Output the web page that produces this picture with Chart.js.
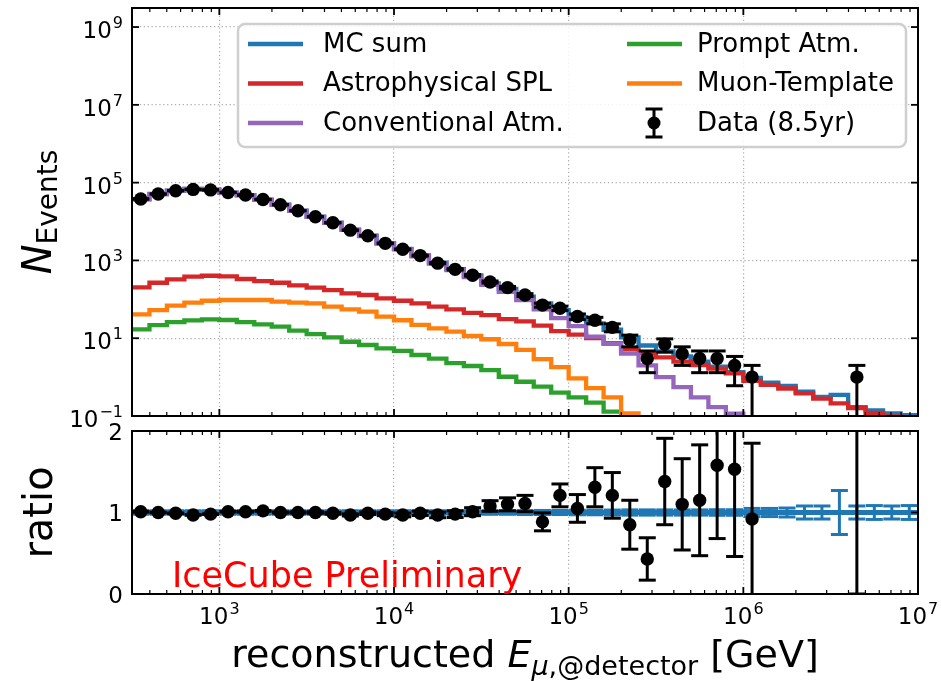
<!DOCTYPE html>
<html>
<head>
<meta charset="utf-8">
<script src="https://cdn.jsdelivr.net/npm/chart.js@4.4.0/dist/chart.umd.min.js"></script>
<style>
  html, body { margin: 0; padding: 0; background: #ffffff; }
  #wrap { position: relative; width: 941px; height: 681px; overflow: hidden; background: #ffffff; }
  #wrap canvas { position: absolute; left: 0; }
  #main { top: 0; }
  #ratio { top: 420px; }
</style>
</head>
<body>
<div id="wrap">
  <canvas id="main" width="941" height="430"></canvas>
  <canvas id="ratio" width="941" height="261"></canvas>
</div>
<script>
// Energy binning: log10(E / GeV) bin edges, 0.1 decade per bin
const binEdgesLog10 = [2.5, 2.6, 2.7, 2.8, 2.9, 3.0, 3.1, 3.2, 3.3, 3.4,
                       3.5, 3.6, 3.7, 3.8, 3.9, 4.0, 4.1, 4.2, 4.3, 4.4,
                       4.5, 4.6, 4.7, 4.8, 4.9, 5.0, 5.1, 5.2, 5.3, 5.4,
                       5.5, 5.6, 5.7, 5.8, 5.9, 6.0, 6.1, 6.2, 6.3, 6.4,
                       6.5, 6.6, 6.7, 6.8, 6.9, 7.0];

// Observed events per bin and their uncertainties
const dataCounts = [38000, 51000, 62000, 67000, 65000, 56000, 48000, 37000, 27000, 19000,
                    13300, 9300, 6000, 4300, 2750, 1930, 1330, 850, 590, 414,
                    279, 200, 129, 71, 59, 36, 29, 19, 9, 3,
                    7, 4, 3, 3, 2, 1, 0, 0, 0, 0,
                    0, 1, 0, 0, 0];
const dataErr = [195, 226, 249, 259, 255, 237, 219, 192, 164, 138,
                 115, 96, 77, 66, 52, 44, 36, 29, 24, 20,
                 17, 14, 11, 8.4, 7.7, 6, 5.4, 4.4, 3, 1.7,
                 2.6, 2, 1.7, 1.7, 1.4, 1, 0, 0, 0, 0,
                 0, 1, 0, 0, 0];

// Expected events per bin
const mcSum = [37600, 51000, 62600, 69000, 66300, 55400, 47500, 36300, 27000, 19000,
               13300, 9400, 6190, 4340, 2800, 1990, 1340, 875, 600, 410,
               258, 184, 117, 78, 53, 35, 24, 16.5, 10.5, 6.5,
               4.6, 3.4, 2.5, 1.85, 1.35, 0.95, 0.72, 0.59, 0.42, 0.31,
               0.35, 0.17, 0.14, 0.117, 0.105];
const astroSPL = [203, 267, 327, 381, 404, 390, 333, 295, 267, 229,
                  199, 173, 143, 129, 106, 92, 79, 65, 55, 45,
                  39, 31, 27, 21, 15.2, 12.4, 10, 7.5, 5.2, 4.1,
                  3.2, 2.5, 2.05, 1.65, 1.25, 0.8, 0.63, 0.51, 0.38, 0.28,
                  0.21, 0.16, 0.12, 0.098, 0.085];
const convAtm = [37300, 50700, 62200, 68600, 65900, 55000, 47100, 35900, 26700, 18750,
                 13100, 9250, 6070, 4240, 2720, 1920, 1280, 830, 560, 375,
                 235, 155, 95, 55, 33, 20.5, 11, 7.2, 4.0, 2.0,
                 1.0, 0.55, 0.3, 0.17, 0.115, 0.07, null, null, null, null,
                 null, null, null, null, null];
const promptAtm = [16.9, 21.8, 26, 28.8, 30.6, 29.4, 26, 22.8, 19.8, 15.6,
                   12.8, 10.5, 8.1, 6.7, 5.5, 4.7, 3.7, 3.0, 2.3, 1.93,
                   1.52, 1.02, 0.76, 0.57, 0.40, 0.30, 0.22, 0.13, 0.06, null,
                   null, null, null, null, null, null, null, null, null, null,
                   null, null, null, null, null];
const muonTemplate = [41, 53, 69, 82, 92, 96, 96, 96, 87, 82,
                      79, 65, 55, 48, 36, 29, 22, 18, 14.7, 11.4,
                      9.4, 7.1, 5.0, 2.9, 1.8, 0.93, 0.52, 0.30, 0.117, 0.05,
                      null, null, null, null, null, null, null, null, null, null,
                      null, null, null, null, null];

// Data / MC ratio with uncertainties, and MC uncertainty around unity
const ratioValues = [1.01, 1.00, 0.99, 0.97, 0.98, 1.01, 1.01, 1.02, 1.00, 1.00,
                     1.00, 0.99, 0.97, 0.99, 0.98, 0.97, 0.99, 0.97, 0.98, 1.01,
                     1.08, 1.10, 1.11, 0.885, 1.21, 1.05, 1.31, 1.21, 0.85, 0.43,
                     1.38, 1.10, 1.15, 1.58, 1.53, 0.92, null, null, null, null,
                     null, 5.9, null, null, null];
const ratioErr = [0.005, 0.004, 0.004, 0.004, 0.004, 0.004, 0.005, 0.005, 0.006, 0.007,
                  0.009, 0.010, 0.013, 0.015, 0.019, 0.023, 0.027, 0.034, 0.041, 0.049,
                  0.065, 0.08, 0.10, 0.11, 0.14, 0.17, 0.24, 0.28, 0.30, 0.26,
                  0.53, 0.56, 0.68, 0.90, 1.07, 0.93, null, null, null, null,
                  null, 5.9, null, null, null];
const mcRatioErr = [0.022, 0.022, 0.022, 0.022, 0.022, 0.022, 0.022, 0.022, 0.022, 0.022,
                    0.022, 0.022, 0.022, 0.022, 0.022, 0.022, 0.022, 0.022, 0.022, 0.022,
                    0.022, 0.022, 0.025, 0.025, 0.025, 0.028, 0.028, 0.03, 0.032, 0.032,
                    0.032, 0.032, 0.032, 0.034, 0.034, 0.05, 0.05, 0.055, 0.08, 0.08,
                    0.27, 0.08, 0.085, 0.08, 0.085];
const ratioReference = 1;

// Axis ticks
const mainTickExps = [-1, 1, 3, 5, 7, 9];
const energyTickExps = [3, 4, 5, 6, 7];
const ratioTicks = [0, 1, 2];

const COLORS = { mc: '#1f77b4', astro: '#d62728', conv: '#9467bd', prompt: '#2ca02c', muon: '#ff7f0e', data: '#000000' };
const FONT = '"DejaVu Sans", sans-serif';
const GRID = '#b0b0b0';

const edges = binEdgesLog10.map(e => Math.pow(10, e));
const centers = edges.slice(0, -1).map((lo, i) => Math.sqrt(lo * edges[i + 1]));
const xMin = edges[0];
const xMax = edges[edges.length - 1];

// Step outline: value of bin i held from edge i to edge i+1
function stepPoints(values) {
  return edges.map((x, j) => ({ x, y: j < values.length ? values[j] : values[values.length - 1] }));
}

function seg(ctx, x1, y1, x2, y2) {
  ctx.beginPath(); ctx.moveTo(x1, y1); ctx.lineTo(x2, y2); ctx.stroke();
}
function clipTo(ctx, a) {
  ctx.beginPath(); ctx.rect(a.left, a.top, a.right - a.left, a.bottom - a.top); ctx.clip();
}
function errorBar(ctx, px, yTop, yBot, cap) {
  seg(ctx, px, yTop, px, yBot);
  seg(ctx, px - cap, yTop, px + cap, yTop);
  seg(ctx, px - cap, yBot, px + cap, yBot);
}

// "10" with a raised exponent
function drawPow(ctx, exp, x, baseY, align) {
  const base = '10';
  const sup = exp < 0 ? '\u2212' + String(-exp) : String(exp);
  ctx.font = '23px ' + FONT;
  const wb = ctx.measureText(base).width;
  ctx.font = '16px ' + FONT;
  const ws = ctx.measureText(sup).width;
  const total = wb + ws + 1;
  const x0 = align === 'right' ? x - total : x - total / 2;
  ctx.fillStyle = '#000';
  ctx.textAlign = 'left';
  ctx.textBaseline = 'alphabetic';
  ctx.font = '23px ' + FONT;
  ctx.fillText(base, x0, baseY);
  ctx.font = '16px ' + FONT;
  ctx.fillText(sup, x0 + wb + 1, baseY - 10);
}

// Run of text pieces with individual fonts and baseline shifts, centred at x
function drawRich(ctx, parts, x, baseY) {
  let total = 0;
  parts.forEach(p => { ctx.font = p.f; p.w = ctx.measureText(p.t).width; total += p.w; });
  let cx = x - total / 2;
  ctx.fillStyle = '#000';
  ctx.textAlign = 'left';
  ctx.textBaseline = 'alphabetic';
  parts.forEach(p => { ctx.font = p.f; ctx.fillText(p.t, cx, baseY + (p.dy || 0)); cx += p.w; });
}

function drawXTicks(ctx, a, xs) {
  ctx.strokeStyle = '#000';
  ctx.lineWidth = 1.2;
  for (let n = 2; n <= 6; n++) {
    for (let k = 2; k <= 9; k++) {
      const v = k * Math.pow(10, n);
      if (v <= xs.min || v >= xs.max) continue;
      const px = xs.getPixelForValue(v);
      seg(ctx, px, a.bottom, px, a.bottom - 4);
      seg(ctx, px, a.top, px, a.top + 4);
    }
  }
  ctx.lineWidth = 1.8;
  energyTickExps.forEach(e => {
    const v = Math.pow(10, e);
    if (v <= xs.min || v >= xs.max) return;
    const px = xs.getPixelForValue(v);
    seg(ctx, px, a.bottom, px, a.bottom - 7);
    seg(ctx, px, a.top, px, a.top + 7);
  });
}

function drawYTicks(ctx, a, ys, values) {
  ctx.strokeStyle = '#000';
  ctx.lineWidth = 1.8;
  values.forEach(v => {
    const py = ys.getPixelForValue(v);
    seg(ctx, a.left, py, a.left + 7, py);
    seg(ctx, a.right, py, a.right - 7, py);
  });
}

function drawFrame(ctx, a) {
  ctx.strokeStyle = '#000';
  ctx.lineWidth = 2;
  ctx.strokeRect(a.left, a.top, a.right - a.left, a.bottom - a.top);
}

function drawLegend(ctx, datasets) {
  const L = 238, T = 24, R = 906, B = 147, r = 7;
  ctx.beginPath();
  ctx.moveTo(L + r, T);
  ctx.arcTo(R, T, R, B, r);
  ctx.arcTo(R, B, L, B, r);
  ctx.arcTo(L, B, L, T, r);
  ctx.arcTo(L, T, R, T, r);
  ctx.closePath();
  ctx.fillStyle = 'rgba(255,255,255,0.85)';
  ctx.fill();
  ctx.strokeStyle = '#cfcfcf';
  ctx.lineWidth = 2.5;
  ctx.stroke();

  const rows = [44, 83.5, 123];
  const cols = [{ line: 248, text: 323 }, { line: 627, text: 697 }];
  datasets.forEach((ds, i) => {
    const col = cols[Math.floor(i / 3)];
    const y = rows[i % 3];
    if (ds.showLine === false) {
      const cx = col.line + 27;
      ctx.strokeStyle = '#000';
      ctx.lineWidth = 3;
      errorBar(ctx, cx, y - 14, y + 14, 8.5);
      ctx.fillStyle = '#000';
      ctx.beginPath(); ctx.arc(cx, y, 6.5, 0, Math.PI * 2); ctx.fill();
    } else {
      ctx.strokeStyle = ds.borderColor;
      ctx.lineWidth = 4.3;
      seg(ctx, col.line, y, col.line + 55, y);
    }
    ctx.fillStyle = '#000';
    ctx.font = '26px ' + FONT;
    ctx.textAlign = 'left';
    ctx.textBaseline = 'middle';
    ctx.fillText(ds.label, col.text, y + 1);
  });
}

const mainDecor = {
  id: 'mainDecor',
  afterDatasetsDraw(chart) {
    const { ctx, chartArea: a, scales: { x, y } } = chart;
    ctx.save();
    clipTo(ctx, a);
    ctx.strokeStyle = COLORS.data;
    ctx.lineWidth = 3;
    centers.forEach((c, i) => {
      const n = dataCounts[i];
      if (!(n > 0)) return;
      const px = x.getPixelForValue(c);
      const yTop = y.getPixelForValue(n + dataErr[i]);
      const lo = n - dataErr[i];
      const yBot = lo > 0 ? y.getPixelForValue(lo) : a.bottom + 20;
      errorBar(ctx, px, yTop, yBot, 8.5);
    });
    ctx.restore();
  },
  afterDraw(chart) {
    const { ctx, chartArea: a, scales: { x, y } } = chart;
    ctx.save();
    drawFrame(ctx, a);
    drawXTicks(ctx, a, x);
    drawYTicks(ctx, a, y, mainTickExps.map(e => Math.pow(10, e)));
    mainTickExps.forEach(e => drawPow(ctx, e, a.left - 9, y.getPixelForValue(Math.pow(10, e)) + 11, 'right'));
    // y-axis title
    ctx.translate(51, (a.top + a.bottom) / 2);
    ctx.rotate(-Math.PI / 2);
    drawRich(ctx, [
      { t: 'N', f: 'italic 40px ' + FONT },
      { t: 'Events', f: '28px ' + FONT, dy: 6 }
    ], 0, 0);
    ctx.restore();
    ctx.save();
    drawLegend(ctx, chart.data.datasets);
    ctx.restore();
  }
};

const ratioDecor = {
  id: 'ratioDecor',
  beforeDatasetsDraw(chart) {
    const { ctx, chartArea: a, scales: { x, y } } = chart;
    ctx.save();
    clipTo(ctx, a);
    ctx.strokeStyle = COLORS.mc;
    ctx.lineWidth = 3;
    centers.forEach((c, i) => {
      const px = x.getPixelForValue(c);
      errorBar(ctx, px, y.getPixelForValue(ratioReference + mcRatioErr[i]),
               y.getPixelForValue(ratioReference - mcRatioErr[i]), 8.5);
    });
    ctx.restore();
  },
  afterDatasetsDraw(chart) {
    const { ctx, chartArea: a, scales: { x, y } } = chart;
    ctx.save();
    clipTo(ctx, a);
    ctx.strokeStyle = COLORS.data;
    ctx.lineWidth = 3;
    centers.forEach((c, i) => {
      const v = ratioValues[i];
      if (v === null) return;
      const px = x.getPixelForValue(c);
      errorBar(ctx, px, y.getPixelForValue(v + ratioErr[i]), y.getPixelForValue(v - ratioErr[i]), 8.5);
    });
    ctx.restore();
  },
  afterDraw(chart) {
    const { ctx, chartArea: a, scales: { x, y } } = chart;
    ctx.save();
    drawFrame(ctx, a);
    drawXTicks(ctx, a, x);
    drawYTicks(ctx, a, y, ratioTicks);
    ctx.fillStyle = '#000';
    ctx.font = '23px ' + FONT;
    ctx.textAlign = 'right';
    ctx.textBaseline = 'alphabetic';
    ratioTicks.forEach(t => ctx.fillText(String(t), a.left - 9, y.getPixelForValue(t) + 8.5));
    energyTickExps.forEach(e => drawPow(ctx, e, x.getPixelForValue(Math.pow(10, e)), a.bottom + 30, 'center'));
    // x-axis title
    drawRich(ctx, [
      { t: 'reconstructed ', f: '38px ' + FONT },
      { t: 'E', f: 'italic 38px ' + FONT },
      { t: '\u03bc', f: 'italic 27px ' + FONT, dy: 8 },
      { t: ',@detector', f: '27px ' + FONT, dy: 8 },
      { t: ' [GeV]', f: '38px ' + FONT }
    ], (a.left + a.right) / 2, a.bottom + 73);
    // label
    ctx.fillStyle = '#ff0000';
    ctx.font = '35px ' + FONT;
    ctx.textAlign = 'left';
    ctx.fillText('IceCube Preliminary', 172, a.bottom - 7);
    // y-axis title
    ctx.translate(52, (a.top + a.bottom) / 2);
    ctx.rotate(-Math.PI / 2);
    drawRich(ctx, [{ t: 'ratio', f: '40px ' + FONT }], 0, 0);
    ctx.restore();
  }
};

function stepDataset(label, values, color, order) {
  return {
    label, data: stepPoints(values), borderColor: color, backgroundColor: color,
    borderWidth: 4.3, pointRadius: 0, stepped: true, fill: false, spanGaps: false,
    borderJoinStyle: 'miter', borderCapStyle: 'butt', order, clip: 0
  };
}

function logX(height) {
  return {
    type: 'logarithmic', min: xMin, max: xMax,
    ticks: { display: false },
    grid: { color: GRID, lineWidth: 1.2, drawTicks: false, tickLength: 0 },
    border: { display: false, dash: [1.3, 2.6] },
    afterBuildTicks: s => { s.ticks = energyTickExps.filter(e => Math.pow(10, e) < xMax).map(e => ({ value: Math.pow(10, e) })); },
    afterFit: s => { s.height = height; }
  };
}

const common = {
  responsive: false,
  animation: false,
  events: [],
  plugins: { legend: { display: false }, tooltip: { enabled: false } }
};

new Chart(document.getElementById('main'), {
  type: 'line',
  data: {
    datasets: [
      stepDataset('MC sum', mcSum, COLORS.mc, 6),
      stepDataset('Astrophysical SPL', astroSPL, COLORS.astro, 5),
      stepDataset('Conventional Atm.', convAtm, COLORS.conv, 4),
      stepDataset('Prompt Atm.', promptAtm, COLORS.prompt, 3),
      stepDataset('Muon-Template', muonTemplate, COLORS.muon, 2),
      {
        label: 'Data (8.5yr)',
        data: centers.map((x, i) => ({ x, y: dataCounts[i] > 0 ? dataCounts[i] : null })),
        showLine: false, pointRadius: 6.7, pointBackgroundColor: COLORS.data,
        pointBorderWidth: 0, borderColor: COLORS.data, order: 1
      }
    ]
  },
  options: Object.assign({}, common, {
    layout: { padding: { left: 0, right: 23, top: 8, bottom: 0 } },
    scales: {
      x: logX(14),
      y: {
        type: 'logarithmic', min: Math.pow(10, mainTickExps[0]), max: Math.pow(10, 9.49),
        ticks: { display: false },
        grid: { color: GRID, lineWidth: 1.2, drawTicks: false, tickLength: 0 },
        border: { display: false, dash: [1.3, 2.6] },
        afterBuildTicks: s => { s.ticks = mainTickExps.slice(1).map(e => ({ value: Math.pow(10, e) })); },
        afterFit: s => { s.width = 132; }
      }
    }
  }),
  plugins: [mainDecor]
});

new Chart(document.getElementById('ratio'), {
  type: 'line',
  data: {
    datasets: [
      {
        label: 'MC ratio',
        data: edges.map(x => ({ x, y: ratioReference })),
        borderColor: COLORS.mc, borderWidth: 5, pointRadius: 0, stepped: true,
        fill: false, order: 2, clip: 0
      },
      {
        label: 'Data / MC',
        data: centers.map((x, i) => ({ x, y: ratioValues[i] })),
        showLine: false, pointRadius: 6.7, pointBackgroundColor: COLORS.data,
        pointBorderWidth: 0, borderColor: COLORS.data, order: 1
      }
    ]
  },
  options: Object.assign({}, common, {
    layout: { padding: { left: 0, right: 23, top: 11, bottom: 0 } },
    scales: {
      x: logX(87),
      y: {
        type: 'linear', min: ratioTicks[0], max: ratioTicks[ratioTicks.length - 1],
        ticks: { display: false },
        grid: { color: GRID, lineWidth: 1.2, drawTicks: false, tickLength: 0 },
        border: { display: false, dash: [1.3, 2.6] },
        afterBuildTicks: s => { s.ticks = [{ value: ratioReference }]; },
        afterFit: s => { s.width = 132; }
      }
    }
  }),
  plugins: [ratioDecor]
});
</script>
</body>
</html>
